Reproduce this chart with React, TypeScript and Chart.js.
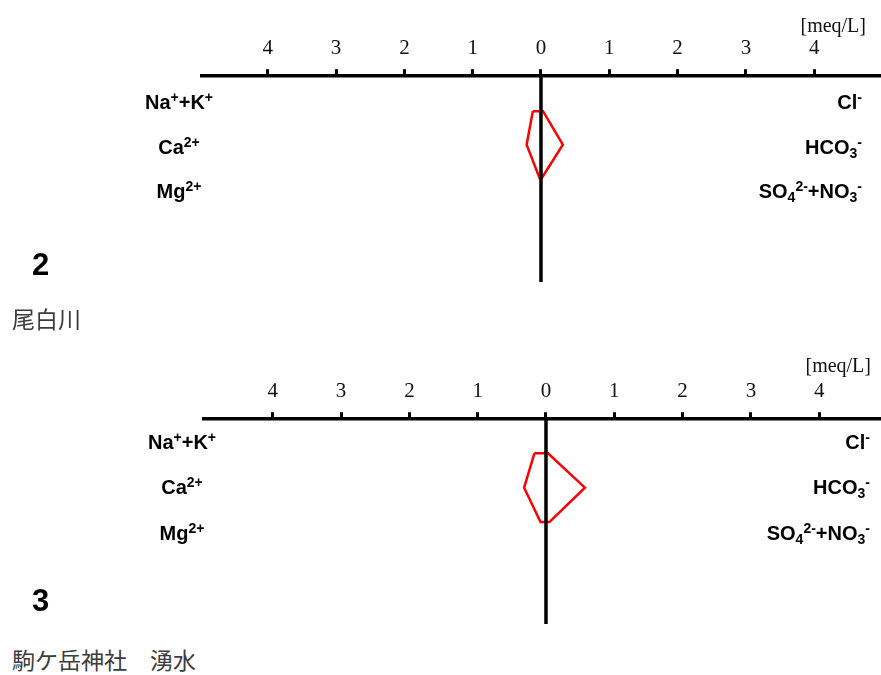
import React, { useEffect, useRef } from "react";
import { Chart, registerables } from "chart.js";

Chart.register(...registerables);

// ---- data (meq/L) ----
const tickValues = [-4, -3, -2, -1, 0, 1, 2, 3, 4];
const rowPositions = [1, 2, 3]; // Na+K / Cl, Ca / HCO3, Mg / SO4+NO3
// Site 2: 尾白川
const cationsSite2 = [0.12, 0.21, 0.02]; // Na+K, Ca, Mg
const anionsSite2 = [0.03, 0.32, 0.01]; // Cl, HCO3, SO4+NO3
// Site 3: 駒ケ岳神社 湧水
const cationsSite3 = [0.17, 0.32, 0.08];
const anionsSite3 = [0.03, 0.57, 0.05];

function stiffPolygon(cations: number[], anions: number[]) {
  const pts: { x: number; y: number }[] = [];
  pts.push({ x: -cations[0], y: rowPositions[0] });
  for (let i = 0; i < anions.length; i++) pts.push({ x: anions[i], y: rowPositions[i] });
  for (let i = cations.length - 1; i >= 0; i--) pts.push({ x: -cations[i], y: rowPositions[i] });
  return pts;
}

type PanelProps = {
  top: number;
  height: number;
  padTop: number;
  padLeft: number;
  xMin: number;
  xMax: number;
  yMin: number;
  yMax: number;
  cations: number[];
  anions: number[];
};

function StiffPanel(p: PanelProps) {
  const ref = useRef<HTMLCanvasElement>(null);
  useEffect(() => {
    if (!ref.current) return;
    const chart = new Chart(ref.current, {
      type: "scatter",
      data: {
        datasets: [
          {
            data: [
              { x: 0, y: p.yMin },
              { x: 0, y: p.yMax },
            ],
            showLine: true,
            borderColor: "#000",
            borderWidth: 3.5,
            pointRadius: 0,
          },
          {
            data: stiffPolygon(p.cations, p.anions),
            showLine: true,
            borderColor: "#ff0000",
            borderWidth: 2.5,
            pointRadius: 0,
            fill: false,
            tension: 0,
          },
        ],
      },
      options: {
        responsive: false,
        animation: false,
        events: [],
        layout: { padding: { left: p.padLeft, right: 0, top: p.padTop, bottom: 0 } },
        plugins: { legend: { display: false }, tooltip: { enabled: false } },
        scales: {
          x: {
            type: "linear",
            position: "top",
            min: p.xMin,
            max: p.xMax,
            afterBuildTicks: (s: any) => {
              s.ticks = tickValues.map((v) => ({ value: v }));
            },
            ticks: {
              callback: (v: any) => String(Math.abs(Number(v))),
              font: { family: '"Liberation Serif", "DejaVu Serif", serif', size: 21 },
              color: "#111",
              padding: 8,
              autoSkip: false,
              maxRotation: 0,
            },
            grid: {
              drawOnChartArea: false,
              drawTicks: true,
              tickLength: 7,
              tickWidth: 3,
              tickColor: "#000",
            },
            border: { display: true, color: "#000", width: 3.5 },
          },
          y: { type: "linear", display: false, min: p.yMin, max: p.yMax, reverse: true },
        },
      },
    } as any);
    return () => chart.destroy();
  }, []);
  return (
    <canvas
      ref={ref}
      width={881}
      height={p.height}
      style={{ position: "absolute", left: 0, top: p.top, display: "block", width: 881, height: p.height }}
    />
  );
}

const ionFont = '"Liberation Sans", Arial, sans-serif';
const supStyle: React.CSSProperties = { fontSize: "0.7em", verticalAlign: "0.5em", lineHeight: 0 };
const subStyle: React.CSSProperties = { fontSize: "0.7em", verticalAlign: "-0.3em", lineHeight: 0 };

function Label(props: { x: number; y: number; align: "center" | "right"; children: React.ReactNode }) {
  const style: React.CSSProperties = {
    position: "absolute",
    top: props.y,
    fontFamily: ionFont,
    fontWeight: "bold",
    fontSize: 20,
    lineHeight: 1,
    whiteSpace: "nowrap",
    color: "#000",
  };
  if (props.align === "center") {
    style.left = props.x;
    style.transform = "translate(-50%, -50%)";
  } else {
    style.right = 881 - props.x;
    style.transform = "translateY(-50%)";
  }
  return <div style={style}>{props.children}</div>;
}

function IonLabels(props: { leftX: number; rightX: number; ys: number[] }) {
  const [y1, y2, y3] = props.ys;
  return (
    <>
      <Label x={props.leftX} y={y1} align="center">
        Na<sup style={supStyle}>+</sup>+K<sup style={supStyle}>+</sup>
      </Label>
      <Label x={props.leftX} y={y2} align="center">
        Ca<sup style={supStyle}>2+</sup>
      </Label>
      <Label x={props.leftX} y={y3} align="center">
        Mg<sup style={supStyle}>2+</sup>
      </Label>
      <Label x={props.rightX} y={y1} align="right">
        Cl<sup style={supStyle}>-</sup>
      </Label>
      <Label x={props.rightX} y={y2} align="right">
        HCO<sub style={subStyle}>3</sub>
        <sup style={supStyle}>-</sup>
      </Label>
      <Label x={props.rightX} y={y3} align="right">
        SO<sub style={subStyle}>4</sub>
        <sup style={supStyle}>2-</sup>+NO<sub style={subStyle}>3</sub>
        <sup style={supStyle}>-</sup>
      </Label>
    </>
  );
}

function Unit(props: { right: number; y: number }) {
  return (
    <div
      style={{
        position: "absolute",
        right: 881 - props.right,
        top: props.y,
        transform: "translateY(-50%)",
        fontFamily: '"Liberation Serif", serif',
        fontSize: 20,
        lineHeight: 1,
        color: "#111",
        whiteSpace: "nowrap",
      }}
    >
      [meq/L]
    </div>
  );
}

function BigNum(props: { y: number; text: string }) {
  return (
    <div
      style={{
        position: "absolute",
        left: 32,
        top: props.y,
        transform: "translateY(-50%)",
        fontFamily: ionFont,
        fontWeight: "bold",
        fontSize: 31,
        lineHeight: 1,
        color: "#000",
      }}
    >
      {props.text}
    </div>
  );
}

function SiteName(props: { y: number; text: string }) {
  return (
    <div
      style={{
        position: "absolute",
        left: 12,
        top: props.y,
        transform: "translateY(-50%)",
        fontFamily: '"Noto Sans CJK JP", "Noto Sans CJK SC", sans-serif',
        fontSize: 23,
        lineHeight: 1,
        color: "#3c3c3c",
        whiteSpace: "pre",
      }}
    >
      {props.text}
    </div>
  );
}

export default function App() {
  return (
    <div style={{ position: "absolute", left: 0, top: 0, width: 881, height: 675, background: "#fff", overflow: "hidden" }}>
      <StiffPanel
        top={0}
        height={282}
        padTop={28}
        padLeft={202}
        xMin={-4.963}
        xMax={4.978}
        yMin={-0.045}
        yMax={6.1}
        cations={cationsSite2}
        anions={anionsSite2}
      />
      <StiffPanel
        top={330}
        height={294}
        padTop={41}
        padLeft={204}
        xMin={-5.007}
        xMax={4.905}
        yMin={0.01}
        yMax={5.96}
        cations={cationsSite3}
        anions={anionsSite3}
      />
      <Unit right={866} y={25} />
      <Unit right={871} y={365} />
      <IonLabels leftX={179} rightX={862} ys={[102, 147, 191]} />
      <IonLabels leftX={182} rightX={870} ys={[442, 487, 533]} />
      <BigNum y={264} text="2" />
      <BigNum y={600} text="3" />
      <SiteName y={318} text="尾白川" />
      <SiteName y={659} text={"駒ケ岳神社\u3000湧水"} />
    </div>
  );
}
